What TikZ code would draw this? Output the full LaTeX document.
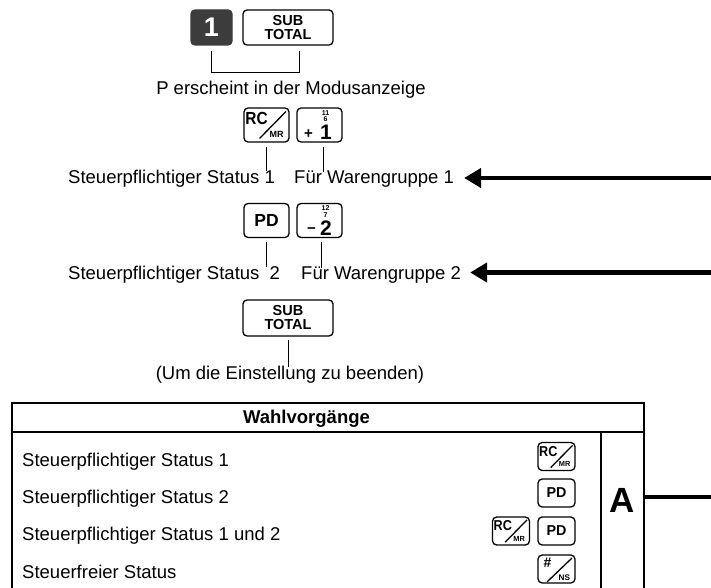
\documentclass[tikz,border=0pt]{standalone}
\usepackage{fontspec}
\setmainfont{Liberation Sans}
\usetikzlibrary{arrows.meta,calc}
\newcommand{\fsz}[1]{\fontsize{#1}{#1}\selectfont}
\definecolor{keydark}{HTML}{3C3C3C}
\tikzset{
 keybox/.style={draw, line width=1.3pt, rounded corners=4pt, minimum width=45pt, minimum height=34pt, inner sep=0pt},
 subkey/.style={keybox, minimum width=90pt, minimum height=35pt, font=\bfseries\fontsize{14.5}{14}\selectfont, align=center},
 lbl/.style={font=\fsz{18.5}, inner sep=2pt, anchor=base west},
 conn/.style={line width=1pt},
 bigarrow/.style={line width=4.5pt, -{Triangle[length=17pt,width=19pt]}},
 thickline/.style={line width=4pt},
 tbl/.style={line width=2pt},
}
% RC/MR key
\newcommand{\keyRC}[3]{%
\begin{scope}[shift={#2}, scale=#3, every node/.append style={transform shape}]
\node[keybox] (#1) at (0,0) {};
\node[font=\bfseries\fsz{17.5}, inner sep=0pt, xscale=0.88] (#1-t) at (-10,-6.5) {RC};
\draw[line width=1.3pt] (-7,13.5) -- (19.5,-13.5);
\node[font=\bfseries\fsz{9}, inner sep=0pt] (#1-b) at (10,9.5) {MR};
\end{scope}}
% PD key
\newcommand{\keyPD}[3]{%
\begin{scope}[shift={#2}, scale=#3, every node/.append style={transform shape}]
\node[keybox, font=\bfseries\fsz{17.5}] (#1) at (0,0) {PD};
\end{scope}}
% #/NS key
\newcommand{\keyNS}[3]{%
\begin{scope}[shift={#2}, scale=#3, every node/.append style={transform shape}]
\node[keybox] (#1) at (0,0) {};
\node[font=\bfseries\fsz{17}, inner sep=0pt] (#1-t) at (-11,-7.5) {\#};
\draw[line width=1.3pt] (-11.6,15.8) -- (18.9,-13.4);
\node[font=\bfseries\fsz{10}, inner sep=0pt] (#1-b) at (9.5,10.5) {NS};
\end{scope}}
% department key
\newcommand{\keyNum}[7]{%
\begin{scope}[shift={#2}]
\node[keybox] (#1) at (0,0) {};
\node[font=\bfseries\fsz{7}, inner sep=0pt] (#1-a) at (6,-12) {#3};
\node[font=\bfseries\fsz{7}, inner sep=0pt] (#1-b) at (6,-5.8) {#4};
\node[font=\bfseries\fsz{15}, inner sep=0pt] (#1-s) at (#7) {#5};
\node[font=\bfseries\fsz{21}, inner sep=0pt, anchor=base] (#1-d) at (6.5,14.5) {#6};
\end{scope}}

\begin{document}
\begin{tikzpicture}[x=1pt,y=-1pt]
\useasboundingbox (0,0) rectangle (711,588);
% top row
\node[keybox, fill=keydark, draw=keydark, minimum width=41pt, minimum height=35pt, text=white, font=\bfseries\fsz{27}] (k1) at (211.5,27.5) {1};
\node[subkey] (st1) at (288,27.5) {SUB\\TOTAL};
\draw[conn] ([yshift=-5pt]k1.south) -- ++(0,22) -| ([xshift=11pt,yshift=-5pt]st1.south);
\node[lbl, anchor=base] (pm) at (291,95) {P erscheint in der Modusanzeige};

% row 1
\keyRC{rc1}{(266.5,125)}{1}
\keyNum{p1}{(319.5,125)}{11}{6}{+}{1}{-11,9}
\node[lbl] (s1) at (66,183) {Steuerpflichtiger Status 1};
\node[lbl] (f1) at (292,183) {Für Warengruppe 1};
\draw[conn] ([yshift=-4pt]rc1.south) -- ([yshift=-4pt]rc1.south |- s1.north);
\draw[conn] ([xshift=3.5pt,yshift=-4pt]p1.south) -- ([xshift=3.5pt,yshift=-4pt]p1.south |- f1.north);
\coordinate (e1) at (711,178);
\draw[bigarrow] (e1) -- ([xshift=8pt]f1.east |- e1);

% row 2
\keyPD{pd1}{(266.5,220.5)}{1}
\keyNum{m2}{(319.5,220.5)}{12}{7}{−}{2}{-8,10}
\node[lbl] (s2) at (66,279) {Steuerpflichtiger Status\ \ 2};
\node[lbl] (f2) at (299,279) {Für Warengruppe 2};
\draw[conn] ([yshift=-4pt]pd1.south) -- ([yshift=-4pt]pd1.south |- s2.north);
\draw[conn] ([xshift=1.5pt,yshift=-4pt]m2.south) -- ([xshift=1.5pt,yshift=-4pt]m2.south |- f2.north);
\coordinate (e2) at (711,272.5);
\draw[bigarrow] (e2) -- ([xshift=7pt]f2.east |- e2);

% row 3
\node[subkey, minimum height=36pt] (st2) at (288,318) {SUB\\TOTAL};
\node[lbl, anchor=base] (um) at (290,379.5) {(Um die Einstellung zu beenden)};
\draw[conn] ([yshift=-3pt]st2.south) -- ([yshift=-3pt]st2.south |- um.north);

% table
\draw[tbl] (12,592) -- (12,403) -- (644,403) -- (644,592);
\draw[tbl] (12,432) -- (644,432);
\draw[tbl] (601,432) -- (601,592);
\node[font=\bfseries\fsz{18.5}, anchor=base] (hd) at (306.5,423) {Wahlvorgänge};
\node[lbl] (r1) at (20,466) {Steuerpflichtiger Status 1};
\node[lbl] (r2) at (20,503) {Steuerpflichtiger Status 2};
\node[lbl] (r3) at (20,540.5) {Steuerpflichtiger Status 1 und 2};
\node[lbl] (r4) at (20,578) {Steuerfreier Status};
\keyRC{t1}{(556.5,456.5)}{0.82}
\keyPD{t2}{(556.5,493)}{0.82}
\keyRC{t3a}{(511,531)}{0.82}
\keyPD{t3b}{(556.5,531)}{0.82}
\keyNS{t4}{(556.5,569)}{0.82}
\node[font=\bfseries\fsz{35}, anchor=base, inner sep=0pt] (A) at (622.5,512) {A};
\coordinate (ae) at (644,497);
\coordinate (e3) at (711,497);
\draw[thickline] (ae) -- (e3);
\end{tikzpicture}
\end{document}
